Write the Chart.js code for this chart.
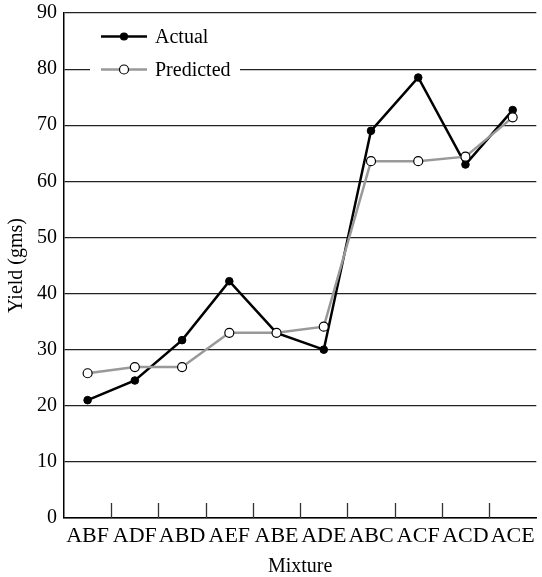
<!DOCTYPE html>
<html>
<head>
<meta charset="utf-8">
<script src="https://cdn.jsdelivr.net/npm/chart.js@4"></script>
<style>
  html, body { margin: 0; padding: 0; background: #fff; }
  #wrap { width: 542px; height: 577px; position: relative; }
</style>
</head>
<body>
<div id="wrap"><canvas id="c" width="542" height="577"></canvas></div>
<script>
const categories = ['ABF', 'ADF', 'ABD', 'AEF', 'ABE', 'ADE', 'ABC', 'ACF', 'ACD', 'ACE'];
const actual = [21.0, 24.5, 31.7, 42.2, 33.0, 30.0, 69.0, 78.5, 63.0, 72.7];
const predicted = [25.8, 26.9, 26.9, 33.0, 33.0, 34.1, 63.6, 63.6, 64.4, 71.4];
const yTicks = [0, 10, 20, 30, 40, 50, 60, 70, 80, 90];
const seriesNames = ['Actual', 'Predicted'];

const FONT = 'Liberation Serif, Times New Roman, serif';

const innerTicks = {
  id: 'innerTicks',
  afterDatasetsDraw(chart) {
    const ctx = chart.ctx, x = chart.scales.x, area = chart.chartArea;
    ctx.save();
    ctx.strokeStyle = '#333';
    ctx.lineWidth = 1.3;
    for (let i = 1; i < categories.length; i++) {
      const px = Math.round((x.getPixelForValue(i - 1) + x.getPixelForValue(i)) / 2) + 0.5;
      ctx.beginPath();
      ctx.moveTo(px, area.bottom);
      ctx.lineTo(px, area.bottom - 15);
      ctx.stroke();
    }
    ctx.restore();
  }
};

const boxLegend = {
  id: 'boxLegend',
  beforeDatasetsDraw(chart) {
    const ctx = chart.ctx;
    ctx.save();
    ctx.fillStyle = '#fff';
    ctx.fillRect(90, 20, 150, 66);
    const rows = [
      { y: 36.5, color: '#000', fill: '#000', r: 3.5, w: 2.5, label: seriesNames[0] },
      { y: 69.5, color: '#999', fill: '#fff', r: 4.5, w: 2.5, label: seriesNames[1] }
    ];
    rows.forEach(r => {
      ctx.strokeStyle = r.color;
      ctx.lineWidth = r.w;
      ctx.beginPath();
      ctx.moveTo(101, r.y);
      ctx.lineTo(147, r.y);
      ctx.stroke();
      ctx.beginPath();
      ctx.arc(124, r.y, r.r, 0, Math.PI * 2);
      ctx.fillStyle = r.fill;
      ctx.fill();
      ctx.strokeStyle = '#000';
      ctx.lineWidth = 1.2;
      ctx.stroke();
      ctx.fillStyle = '#000';
      ctx.font = '20px ' + FONT;
      ctx.textBaseline = 'middle';
      ctx.textAlign = 'left';
      ctx.fillText(r.label, 155, r.y + 1);
    });
    ctx.restore();
  }
};

new Chart(document.getElementById('c'), {
  type: 'line',
  data: {
    labels: categories,
    datasets: [
      {
        label: seriesNames[0],
        data: actual,
        borderColor: '#000',
        backgroundColor: '#000',
        borderWidth: 2.5,
        pointRadius: 3.8,
        pointBackgroundColor: '#000',
        pointBorderColor: '#000',
        pointBorderWidth: 1,
        tension: 0,
        order: 1
      },
      {
        label: seriesNames[1],
        data: predicted,
        borderColor: '#999',
        backgroundColor: '#fff',
        borderWidth: 2.5,
        pointRadius: 4.5,
        pointBackgroundColor: '#fff',
        pointBorderColor: '#000',
        pointBorderWidth: 1.2,
        tension: 0,
        order: 0
      }
    ]
  },
  options: {
    responsive: false,
    animation: false,
    events: [],
    layout: { padding: { top: 13, right: 1, left: 0, bottom: 0 } },
    plugins: {
      legend: { display: false },
      tooltip: { enabled: false }
    },
    scales: {
      x: {
        type: 'category',
        offset: true,
        grid: { display: false, drawTicks: false },
        border: { display: true, color: '#000', width: 1.5 },
        ticks: { color: '#000', font: { family: FONT, size: 22 }, padding: 5, maxRotation: 0, autoSkip: false },
        title: { display: true, text: 'Mixture', color: '#000', font: { family: FONT, size: 20, lineHeight: 1 }, padding: { top: 0, bottom: 0 } },
        afterFit(scale) { scale.height = 59; scale.paddingLeft = 0; scale.paddingRight = 0; }
      },
      y: {
        min: 0,
        max: 90,
        afterBuildTicks(scale) { scale.ticks = yTicks.map(v => ({ value: v })); },
        grid: { color: '#222', lineWidth: 1.2, drawTicks: false },
        border: { display: true, color: '#000', width: 1.5 },
        ticks: { color: '#000', font: { family: FONT, size: 20 }, padding: 7 },
        title: { display: true, text: 'Yield (gms)', color: '#000', font: { family: FONT, size: 20, lineHeight: 1.2 }, padding: { top: 5, bottom: 0 } },
        afterFit(scale) { scale.width = 64; scale.paddingTop = 0; scale.paddingBottom = 0; }
      }
    }
  },
  plugins: [innerTicks, boxLegend]
});
</script>
</body>
</html>
